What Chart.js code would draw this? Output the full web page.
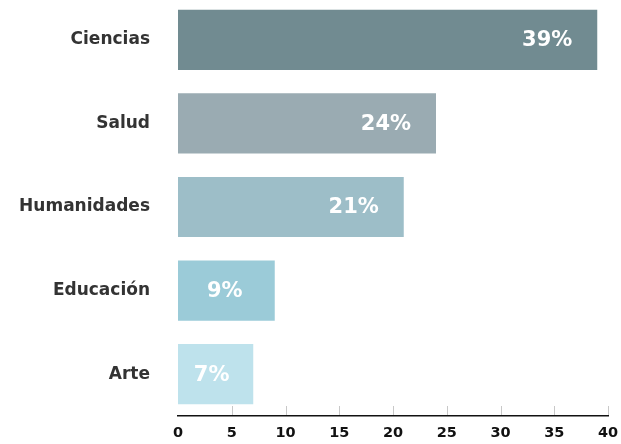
<!DOCTYPE html>
<html>
<head>
<meta charset="utf-8">
<script src="https://cdn.jsdelivr.net/npm/chart.js@4"></script>
<style>
  html, body { margin: 0; padding: 0; background: #fff; overflow: hidden; }
  #wrap { position: relative; width: 621px; height: 446px; margin-top: -2px; }
</style>
</head>
<body>
<div id="wrap"><canvas id="chart"></canvas></div>
<script>
// Chart data
const categories = ['Ciencias', 'Salud', 'Humanidades', 'Educación', 'Arte'];
const percentages = [39, 24, 21, 9, 7];
const barColors = ['#718b91', '#9aabb2', '#9dbec8', '#9bcbd8', '#bee2ec'];
const xTicks = [0, 5, 10, 15, 20, 25, 30, 35, 40];

// Value labels inside bars: ~50px from the end, centred for short bars
const valueLabels = {
    id: 'valueLabels',
    afterDatasetsDraw(chart) {
        const ctx = chart.ctx;
        const meta = chart.getDatasetMeta(0);
        const left = chart.scales.x.getPixelForValue(0);
        ctx.save();
        ctx.font = 'bold 21px "DejaVu Sans"';
        ctx.fillStyle = '#ffffff';
        ctx.textBaseline = 'middle';
        ctx.textAlign = 'center';
        meta.data.forEach((bar, i) => {
            const centre = (left + bar.x) / 2 - 4;
            const x = Math.max(bar.x - 50, centre);
            ctx.fillText(percentages[i] + '%', x, bar.y + 1);
        });
        ctx.restore();
    }
};

// Small tick marks pointing up from the x axis
const upTicks = {
    id: 'upTicks',
    afterDraw(chart) {
        const ctx = chart.ctx;
        const xs = chart.scales.x;
        const y = chart.chartArea.bottom;
        ctx.save();
        ctx.strokeStyle = '#c8c8c8';
        ctx.lineWidth = 1;
        xTicks.slice(1).forEach(v => {
            const x = Math.round(xs.getPixelForValue(v)) + 0.5;
            ctx.beginPath();
            ctx.moveTo(x, y - 10);
            ctx.lineTo(x, y - 1);
            ctx.stroke();
        });
        ctx.restore();
    }
};

new Chart(document.getElementById('chart'), {
    type: 'bar',
    data: {
        labels: categories,
        datasets: [{
            data: percentages,
            backgroundColor: barColors,
            barPercentage: 0.72,
            categoryPercentage: 1
        }]
    },
    options: {
        indexAxis: 'y',
        responsive: true,
        maintainAspectRatio: false,
        animation: false,
        layout: { padding: { left: 0, right: 13, top: 0, bottom: 0 } },
        plugins: {
            legend: { display: false },
            tooltip: { enabled: false }
        },
        scales: {
            x: {
                min: 0,
                max: 40,
                afterFit(scale) {
                    scale.height = 28;
                    scale.paddingLeft = 0;
                    scale.paddingRight = 0;
                },
                afterBuildTicks(scale) { scale.ticks = xTicks.map(v => ({ value: v })); },
                grid: { display: false, drawTicks: false },
                border: { display: true, color: '#111', width: 1.5 },
                ticks: {
                    color: '#111',
                    padding: 9,
                    font: { family: 'DejaVu Sans', weight: 'bold', size: 14.5 }
                }
            },
            y: {
                afterFit(scale) {
                    scale.width = 178;
                    scale.paddingTop = 0;
                    scale.paddingBottom = 0;
                },
                grid: { display: false, drawTicks: false },
                border: { display: false },
                ticks: {
                    color: '#333',
                    padding: 28,
                    font: { family: 'DejaVu Sans', weight: 'bold', size: 17 }
                }
            }
        }
    },
    plugins: [valueLabels, upTicks]
});
</script>
</body>
</html>
